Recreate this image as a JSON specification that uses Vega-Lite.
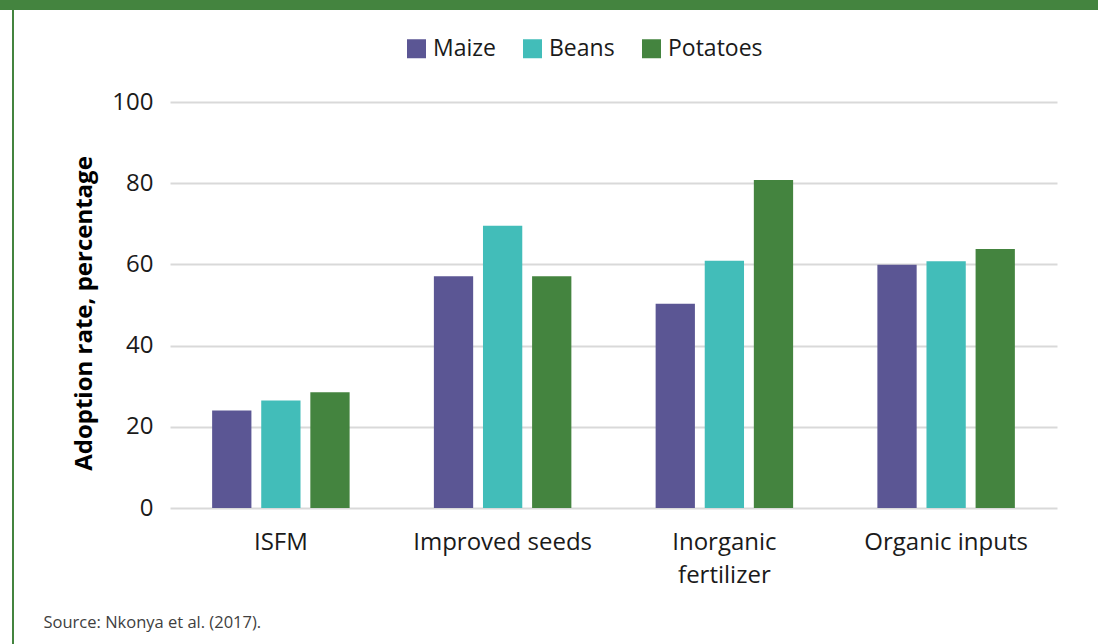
{
  "$schema": "https://vega.github.io/schema/vega-lite/v6.json",
  "padding": 0,
  "background": "white",
  "spacing": 0,
  "config": {"view": {"stroke": null}, "font": "Open Sans"},
  "vconcat": [
    {
      "width": 1098,
      "height": 10,
      "view": {"fill": "#44843f", "stroke": null},
      "data": {"values": []},
      "mark": "point",
      "encoding": {}
    },
    {
      "spacing": 0,
      "hconcat": [
        {
          "width": 12,
          "height": 634,
          "data": {"values": []},
          "mark": "point",
          "encoding": {}
        },
        {
          "spacing": 29,
          "hconcat": [
            {
              "width": 2,
              "height": 634,
              "view": {"fill": "#44843f", "stroke": null},
              "data": {"values": []},
              "mark": "point",
              "encoding": {}
            },
            {
              "spacing": 0,
              "vconcat": [
                {
                  "width": 10,
                  "height": 80,
                  "data": {"values": []},
                  "mark": "point",
                  "encoding": {}
                },
                {
                  "width": 887,
                  "height": 406,
                  "data": {
                    "values": [
                      {"practice": "ISFM", "crop": "Maize", "rate": 24},
                      {"practice": "ISFM", "crop": "Beans", "rate": 26.5},
                      {"practice": "ISFM", "crop": "Potatoes", "rate": 28.5},
                      {"practice": "Improved seeds", "crop": "Maize", "rate": 57.1},
                      {"practice": "Improved seeds", "crop": "Beans", "rate": 69.5},
                      {"practice": "Improved seeds", "crop": "Potatoes", "rate": 57.1},
                      {"practice": "Inorganic fertilizer", "crop": "Maize", "rate": 50.3},
                      {"practice": "Inorganic fertilizer", "crop": "Beans", "rate": 60.9},
                      {"practice": "Inorganic fertilizer", "crop": "Potatoes", "rate": 80.8},
                      {"practice": "Organic inputs", "crop": "Maize", "rate": 59.9},
                      {"practice": "Organic inputs", "crop": "Beans", "rate": 60.8},
                      {"practice": "Organic inputs", "crop": "Potatoes", "rate": 63.8}
                    ]
                  },
                  "mark": {"type": "bar"},
                  "encoding": {
                    "x": {
                      "field": "practice",
                      "type": "nominal",
                      "sort": ["ISFM", "Improved seeds", "Inorganic fertilizer", "Organic inputs"],
                      "scale": {"paddingInner": 0.38, "paddingOuter": 0.19},
                      "axis": {
                        "title": "Source: Nkonya et al. (2017).",
                        "titleX": -127,
                        "titleY": 119,
                        "titleAlign": "left",
                        "titleBaseline": "alphabetic",
                        "titleFontSize": 16.5,
                        "titleFontWeight": "normal",
                        "titleColor": "#404040",
                        "labelAngle": 0,
                        "labelFontSize": 24,
                        "labelColor": "#1a1a1a",
                        "labelPadding": 22,
                        "labelLineHeight": 33,
                        "labelExpr": "datum.label == 'Inorganic fertilizer' ? ['Inorganic', 'fertilizer'] : datum.label",
                        "domain": false,
                        "ticks": false,
                        "grid": false
                      }
                    },
                    "xOffset": {
                      "field": "crop",
                      "type": "nominal",
                      "sort": ["Maize", "Beans", "Potatoes"],
                      "scale": {"paddingInner": 0.2}
                    },
                    "y": {
                      "field": "rate",
                      "type": "quantitative",
                      "scale": {"domain": [0, 100]},
                      "axis": {
                        "values": [0, 20, 40, 60, 80, 100],
                        "title": "Adoption rate, percentage",
                        "titleFontSize": 24,
                        "titleFontWeight": "bold",
                        "titleColor": "#000000",
                        "titlePadding": 15,
                        "titleY": 211,
                        "labelFontSize": 24,
                        "labelPadding": 17,
                        "labelColor": "#1a1a1a",
                        "domain": false,
                        "ticks": false,
                        "gridColor": "#d9d9d9",
                        "gridWidth": 2
                      }
                    },
                    "color": {
                      "field": "crop",
                      "type": "nominal",
                      "scale": {"domain": ["Maize", "Beans", "Potatoes"], "range": ["#5b5694", "#42bdb9", "#44843f"]},
                      "legend": {
                        "title": null,
                        "orient": "none",
                        "legendX": 405,
                        "legendY": 37,
                        "direction": "horizontal",
                        "padding": 0,
                        "symbolType": "square",
                        "symbolSize": 361,
                        "symbolStrokeWidth": 0,
                        "symbolOpacity": 1,
                        "labelFontSize": 23,
                        "labelOffset": 5,
                        "columnPadding": 25,
                        "labelColor": "#1a1a1a"
                      }
                    }
                  }
                }
              ]
            }
          ]
        }
      ]
    }
  ]
}
